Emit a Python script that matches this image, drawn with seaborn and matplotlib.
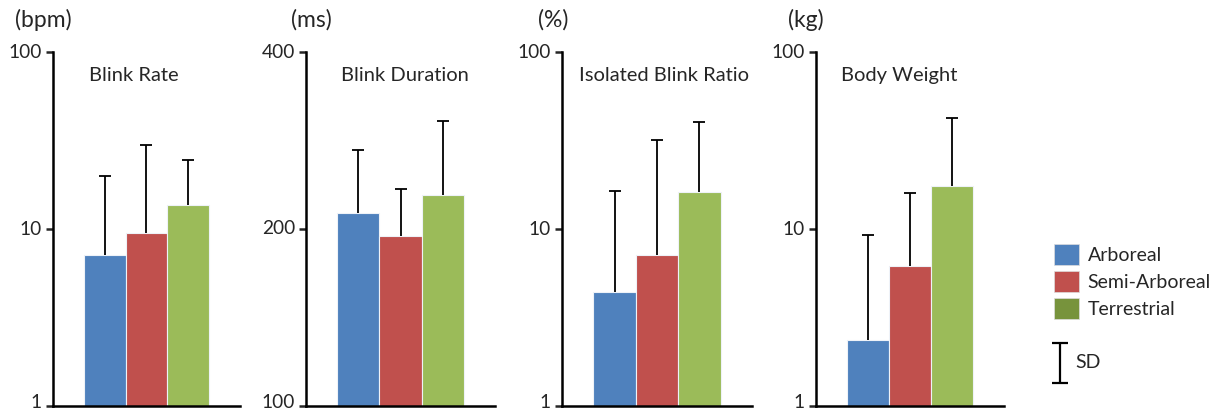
import numpy as np
import pandas as pd
import matplotlib
matplotlib.use("Agg")
import matplotlib.pyplot as plt
from matplotlib.patches import Patch
import seaborn as sns

# groups and colours
groups = ["Arboreal", "Semi-Arboreal", "Terrestrial"]
bar_colors = ["#4F81BD", "#C0504D", "#9BBB59"]
legend_colors = ["#4F81BD", "#C0504D", "#77933C"]

# panel data (mean, upper SD end)
titles = ["Blink Rate", "Blink Duration", "Isolated Blink Ratio", "Body Weight"]
units = ["(bpm)", "(ms)", "(%)", "(kg)"]
means = [
    [7.1, 9.5, 13.7],
    [213, 194.5, 228.5],
    [4.4, 7.1, 16.2],
    [2.35, 6.15, 17.4],
]
sd_tops = [
    [19.9, 29.8, 24.5],
    [272, 234, 305],
    [16.4, 31.8, 40.2],
    [9.3, 15.9, 42.5],
]
ylims = [(1, 100), (100, 400), (1, 100), (1, 100)]
yticks = [[1, 10, 100], [100, 200, 400], [1, 10, 100], [1, 10, 100]]

sns.set_style("white")
plt.rcParams["font.family"] = ["Lato", "DejaVu Sans"]
FS = 14.5
TICK_FS = 13.8
UNIT_FS = 16.5
LEG_FS = 14

W, H = 1211, 413
fig = plt.figure(figsize=(W / 100, H / 100), dpi=100)

# axes boxes in pixels: left, right
ax_px = [(53, 240), (306, 495), (562, 752), (816, 1004)]
top_px, bot_px = 52, 406
unit_dx = [-10, 5, -9, -10]
title_dx = [36, 35, 17, 25]

for i in range(4):
    l, r = ax_px[i]
    ax = fig.add_axes([l / W, 1 - bot_px / H, (r - l) / W, (bot_px - top_px) / H])
    df = pd.DataFrame({"group": groups, "value": means[i]})
    sns.barplot(data=df, x="group", y="value", hue="group", palette=bar_colors,
                saturation=1, width=1.0, legend=False, ax=ax, linewidth=0.8,
                edgecolor="#eef2f8")
    ax.set_yscale("log")
    ax.set_ylim(*ylims[i])
    ax.set_xlim(-1.24, 3.24)
    # upper SD whiskers
    x = np.arange(3)
    ax.vlines(x, means[i], sd_tops[i], color="black", lw=1.3, zorder=3)
    ax.plot(x, sd_tops[i], ls="none", marker="_", ms=9, mew=1.3, color="black", zorder=3)

    ax.yaxis.set_major_locator(matplotlib.ticker.FixedLocator(yticks[i]))
    ax.yaxis.set_minor_locator(matplotlib.ticker.NullLocator())
    ax.set_yticklabels([])
    # tick labels as annotations so the lowest one can sit a little higher
    for k, t in enumerate(yticks[i]):
        ax.annotate(str(t), xy=(0, t), xycoords=("axes fraction", "data"),
                    xytext=(-11, 4 if k == 0 else 0), textcoords="offset pixels",
                    ha="right", va="center", fontsize=TICK_FS, annotation_clip=False)
    ax.set_xticks([])
    ax.set_xlabel("")
    ax.set_ylabel("")
    ax.tick_params(axis="y", direction="out", length=5, width=1.8, left=True)
    for s in ["top", "right"]:
        ax.spines[s].set_visible(False)
    for s in ["left", "bottom"]:
        ax.spines[s].set_color("black")
        ax.spines[s].set_linewidth(1.8)

    ax.text(title_dx[i] / (r - l), 0.935, titles[i], transform=ax.transAxes,
            ha="left", va="center", fontsize=FS)
    ax.text(unit_dx[i] / (r - l), (bot_px - 20) / (bot_px - top_px), units[i],
            transform=ax.transAxes, ha="center", va="center", fontsize=UNIT_FS)

handles = [Patch(facecolor=c, edgecolor="#dddddd", lw=0.5) for c in legend_colors]
fig.legend(handles, groups, loc="upper left", bbox_to_anchor=(1046 / W, 1 - 236 / H),
           frameon=False, fontsize=LEG_FS, handlelength=1.3, handleheight=1.3,
           handletextpad=0.45, labelspacing=0.3, borderaxespad=0)

# SD key
kax = fig.add_axes([1042 / W, 1 - 390 / H, 60 / W, 54 / H])
kax.set_axis_off()
kax.errorbar([0], [0], yerr=[1], ls="none", color="black", capsize=6,
             elinewidth=1.6, capthick=1.6)
kax.set_xlim(-1, 2.4)
kax.set_ylim(-1.35, 1.35)
kax.text(0.9, 0, "SD", ha="left", va="center", fontsize=LEG_FS)

fig.savefig("out.png", dpi=100)
